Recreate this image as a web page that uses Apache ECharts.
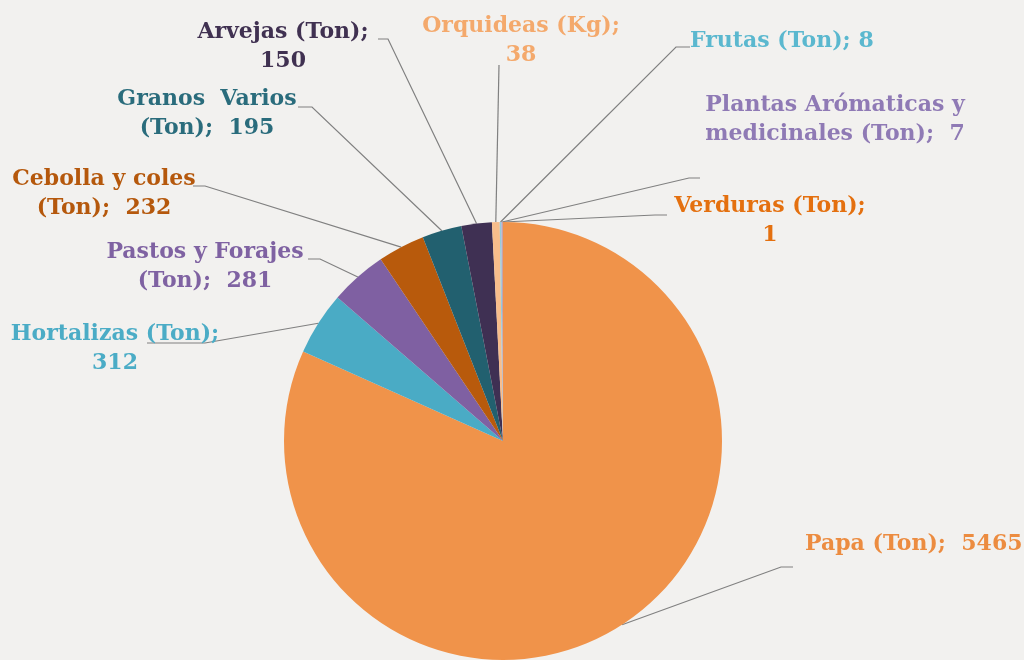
<!DOCTYPE html>
<html lang="es">
<head>
    <meta charset="UTF-8">
    <title>Producción</title>
    <script src="https://cdn.jsdelivr.net/npm/echarts@6/dist/echarts.min.js"></script>
    <style>
        html, body { margin: 0; padding: 0; background: #f2f1ef; }
    </style>
</head>
<body>
<div id="main" style="width: 1024px; height: 660px"></div>
</body>
<script>
    // datos
    let categorias = ['Papa (Ton)', 'Hortalizas (Ton)', 'Pastos y Forajes (Ton)', 'Cebolla y coles (Ton)',
        'Granos Varios (Ton)', 'Arvejas (Ton)', 'Orquideas (Kg)', 'Frutas (Ton)',
        'Plantas Arómaticas y medicinales (Ton)', 'Verduras (Ton)'];
    let valores = [5465, 312, 281, 232, 195, 150, 38, 8, 7, 1];
    // texto de etiqueta con sus saltos de línea
    let etiquetas = ['Papa (Ton);  ', 'Hortalizas (Ton);\n', 'Pastos y Forajes\n(Ton);  ', 'Cebolla y coles\n(Ton);  ',
        'Granos  Varios\n(Ton);  ', 'Arvejas (Ton);\n', 'Orquideas (Kg);\n', 'Frutas (Ton); ',
        'Plantas Arómaticas y\nmedicinales (Ton);  ', 'Verduras (Ton);\n'];

    let colores = ['#f0934a', '#4aabc5', '#7f60a2', '#b85a0c', '#22606f', '#3f3053', '#f8bd8b', '#92cddc', '#b3a2c7', '#e46c0a'];
    let coloresTexto = ['#ec8c40', '#4bacc6', '#7f62a2', '#b5580c', '#2a6c7c', '#403151', '#f4a96c', '#5bb8cf', '#8f7ab5', '#e4700f'];

    // posición de etiquetas: [align, x, top, finX, finY, codoX]
    let spots = [
        ['left', 805, 530, 793, 567, 781],
        ['center', 115, 320, 147, 343, 205],
        ['center', 205, 238, 308, 259, 320],
        ['center', 104, 165, 193, 186, 205],
        ['center', 207, 85, 298, 107, 312],
        ['center', 283, 18, 378, 39, 388],
        ['center', 521, 12, 499, 65, 499],
        ['left', 690, 27, 690, 47, 676],
        ['center', 835, 91, 700, 178, 689],
        ['center', 770, 192, 667, 215, 655]
    ];

    let datos = [];
    for (let i = 0; i < valores.length; i++) {
        datos.push({
            name: categorias[i],
            value: valores[i],
            itemStyle: {color: colores[i]},
            label: {color: coloresTexto[i]}
        });
    }

    let myChart = echarts.init(document.getElementById('main'));
    let option = {
        backgroundColor: '#f2f1ef',
        animation: false,
        series: [{
            type: 'pie',
            center: [503, 441],
            radius: 219,
            startAngle: 90,
            clockwise: true,
            avoidLabelOverlap: false,
            emphasis: {disabled: true},
            data: datos,
            itemStyle: {borderWidth: 0},
            label: {
                show: true,
                position: 'outside',
                fontFamily: 'DejaVu Serif',
                fontWeight: 'bold',
                fontSize: 22,
                lineHeight: 29,
                formatter: function (p) {
                    return etiquetas[p.dataIndex] + p.value;
                }
            },
            labelLine: {
                show: true,
                length: 10,
                length2: 10,
                lineStyle: {color: '#808080', width: 1.2}
            },
            labelLayout: function (params) {
                let s = spots[params.dataIndex];
                let pts = params.labelLinePoints;
                let p0 = pts ? pts[0] : [s[3], s[4]];
                return {
                    x: s[1],
                    y: s[2],
                    align: s[0],
                    verticalAlign: 'top',
                    labelLinePoints: [p0, [s[5], s[4]], [s[3], s[4]]]
                };
            }
        }]
    };
    myChart.setOption(option);
</script>
</html>
